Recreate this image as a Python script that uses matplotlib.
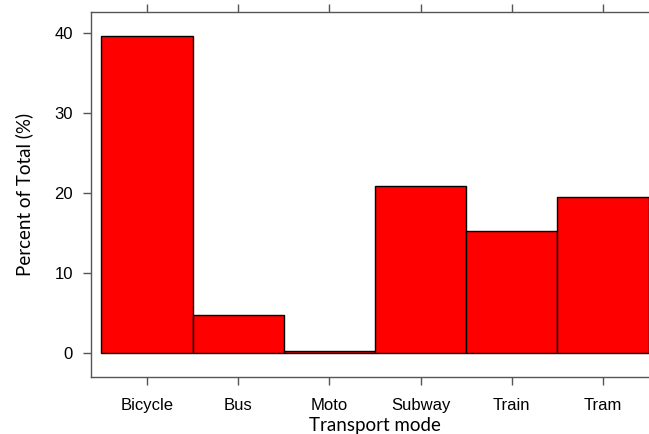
import matplotlib
matplotlib.use("Agg")
import matplotlib.pyplot as plt

# Share of trips by transport mode (percent of total)
modes = ["Bicycle", "Bus", "Moto", "Subway", "Train", "Tram"]
percent = [39.6, 4.7, 0.2, 20.9, 15.2, 19.5]
y_ticks = [0, 10, 20, 30, 40]

fig = plt.figure(figsize=(6.49, 4.34), dpi=100)
ax = fig.add_axes([0.1402, 0.1313, 0.8752, 0.841])

positions = list(range(1, len(modes) + 1))
ax.bar(positions, percent, width=1.0, color="#FF0000", edgecolor="black",
       linewidth=1.0)

ax.set_xlim(0.386, 6.614)
ax.set_ylim(-3.0, 42.625)

frame = "#555555"
for side in ["left", "bottom", "top", "right"]:
    ax.spines[side].set_color(frame)
    ax.spines[side].set_linewidth(1.0)

tick_font = dict(family="Liberation Sans", size=12)
ax.set_xticks(positions)
ax.set_xticklabels(modes, **tick_font)
ax.set_yticks(y_ticks)
ax.set_yticklabels([str(v) for v in y_ticks], **tick_font)
ax.tick_params(axis="both", direction="out", length=6, width=1.0,
               color=frame, labelcolor="black", pad=7)
ax.tick_params(axis="x", top=True, labeltop=False, pad=9)

label_font = dict(family="Lato", size=13.5)
ax.set_xlabel("Transport mode", labelpad=3, **label_font)
ax.set_ylabel("Percent of Total (%)", labelpad=15, **label_font)

fig.savefig("out.png", dpi=100)
